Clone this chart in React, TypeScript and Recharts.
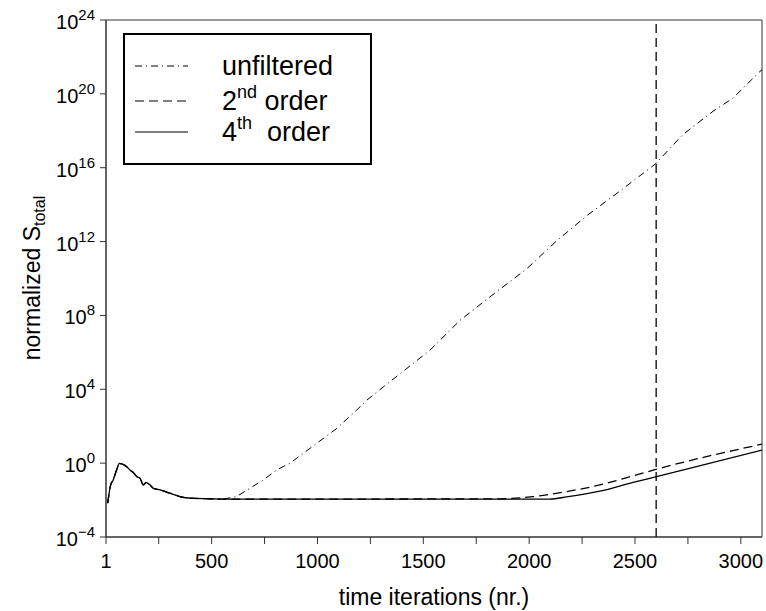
import React from 'react';
import {
  LineChart,
  Line,
  XAxis,
  YAxis,
  ReferenceLine,
  ReferenceArea,
  Legend
} from 'recharts';

const FONT = '"Liberation Sans", Arial, Helvetica, sans-serif';

// start-up transient, identical for all three runs (values are log10 of S_total)
const earlyIters = [9, 23, 35, 51, 64, 75, 99, 114, 130, 146, 162, 177, 190, 209, 224, 256, 303, 350, 398, 492, 555];
const earlyExps = [-2.17, -1.18, -0.91, -0.37, -0.01, -0.04, -0.19, -0.37, -0.51, -0.73, -0.82, -1.18, -1.05, -1.18, -1.36, -1.45, -1.63, -1.81, -1.9, -1.93, -1.95];

// unfiltered run blows up
const unfilteredIters = [618, 681, 744, 807, 870, 933, 996, 1091, 1185, 1233, 1311, 1531, 1673, 1823, 1988, 2130, 2271, 2429, 2594, 2727, 2869, 2963, 3089, 3100];
const unfilteredExps = [-1.81, -1.36, -0.91, -0.37, 0.0, 0.53, 1.07, 1.88, 2.87, 3.41, 4.13, 6.11, 7.73, 9.08, 10.52, 12.04, 13.39, 14.74, 16.18, 17.8, 19.06, 19.77, 21.2, 21.3];

// 2nd order filter
const secondIters = [1862, 2019, 2177, 2334, 2491, 2602, 3100];
const secondExps = [-1.93, -1.81, -1.54, -1.18, -0.69, -0.33, 1.03];

// 4th order filter
const fourthIters = [2098, 2177, 2334, 2491, 2602, 3100];
const fourthExps = [-1.95, -1.83, -1.52, -1.04, -0.73, 0.71];

const xTicks = [1, 250, 500, 750, 1000, 1250, 1500, 1750, 2000, 2250, 2500, 2750, 3000];
const xLabelTicks = [1, 500, 1000, 1500, 2000, 2500, 3000];
const yTickExps = [-4, 0, 4, 8, 12, 16, 20, 24];
const cutoffIter = 2600;

const toPoints = (iters: number[], exps: number[]) =>
  iters.map((it, i) => ({ iter: it, value: Math.pow(10, exps[i]) }));

const earlyData = toPoints(earlyIters, earlyExps);
const unfilteredData = [...earlyData, ...toPoints(unfilteredIters, unfilteredExps)];
const secondData = [...earlyData, ...toPoints(secondIters, secondExps)];
const fourthData = [...earlyData, ...toPoints(fourthIters, fourthExps)];
const yTicks = yTickExps.map(e => Math.pow(10, e));

const XTick = ({ x, y, payload }: any) => {
  if (!xLabelTicks.includes(payload.value)) return <g />;
  return (
    <text x={x} y={y + 22} textAnchor="middle" fontSize={20} fontFamily={FONT} fill="#000">
      {payload.value}
    </text>
  );
};

const YTick = ({ x, y, payload }: any) => {
  const e = Math.round(Math.log10(payload.value));
  return (
    <text x={x - 3} y={y + 9} textAnchor="end" fontFamily={FONT} fill="#000">
      <tspan fontSize={20}>10</tspan>
      <tspan fontSize={15} dy={-9}>{e < 0 ? '\u2212' + -e : e}</tspan>
    </text>
  );
};

const YTitle = () => (
  <text
    x={40}
    y={278}
    transform="rotate(-90 40 278)"
    textAnchor="middle"
    fontSize={23}
    fontFamily={FONT}
    fill="#000"
  >
    normalized S<tspan fontSize={16} dy={5}>total</tspan>
  </text>
);

const legendRows = [
  { key: 'unfiltered', dash: '7 4 1 4', base: 'unfiltered', sup: '', rest: '' },
  { key: 'second', dash: '9 5', base: '2', sup: 'nd', rest: ' order' },
  { key: 'fourth', dash: undefined, base: '4', sup: 'th', rest: '  order' }
];
const legendRowCenters = [31, 66, 97];

const LegendBox = () => (
  <div
    style={{
      position: 'relative',
      width: 245,
      height: 128,
      border: '2px solid #000',
      background: '#fff',
      fontFamily: FONT
    }}
  >
    {legendRows.map((r, i) => (
      <div key={r.key} style={{ position: 'absolute', left: 0, top: legendRowCenters[i] - 16, height: 32, width: 245 }}>
        <svg width={70} height={32} style={{ position: 'absolute', left: 0, top: 0 }}>
          <line x1={10} x2={63} y1={16} y2={16} stroke="#000" strokeWidth={1.2} strokeDasharray={r.dash} />
        </svg>
        <span
          style={{
            position: 'absolute',
            left: 97,
            top: 0,
            fontSize: 27,
            lineHeight: '32px',
            whiteSpace: 'pre',
            color: '#000'
          }}
        >
          {r.base}
          {r.sup && (
            <span style={{ fontSize: 18, position: 'relative', top: -12 }}>{r.sup}</span>
          )}
          {r.rest}
        </span>
      </div>
    ))}
  </div>
);

const App: React.FC = () => {
  return (
    <div style={{ position: 'absolute', left: 0, top: 0, background: '#fff' }}>
      <LineChart width={766} height={611} margin={{ top: 20, right: 4, bottom: 0, left: 0 }}>
        <XAxis
          type="number"
          dataKey="iter"
          domain={[1, 3100]}
          ticks={xTicks}
          interval={0}
          tick={<XTick />}
          tickSize={7}
          height={74}
          stroke="#333"
          allowDataOverflow
          label={{
            value: 'time iterations (nr.)',
            position: 'insideBottom',
            offset: 6,
            fontSize: 23,
            fill: '#000',
            fontFamily: FONT
          }}
        />
        <YAxis
          type="number"
          scale="log"
          domain={[1e-4, 1e24]}
          ticks={yTicks}
          interval={0}
          tick={<YTick />}
          tickSize={6}
          width={106}
          stroke="#333"
          allowDataOverflow
          label={<YTitle />}
        />
        <ReferenceArea x1={1} x2={3100} y1={1e-4} y2={1e24} fill="none" stroke="#333" strokeWidth={1} />
        <Legend
          layout="horizontal"
          verticalAlign="middle"
          align="center"
          content={<LegendBox />}
          wrapperStyle={{ left: 123, top: 33, width: 249, height: 132 }}
        />
        <Line
          data={unfilteredData}
          dataKey="value"
          name="unfiltered"
          type="linear"
          stroke="#000"
          strokeWidth={1}
          strokeDasharray="7 4 1 4"
          dot={false}
          isAnimationActive={false}
        />
        <Line
          data={secondData}
          dataKey="value"
          name="2nd order"
          type="monotoneX"
          stroke="#000"
          strokeWidth={1.3}
          strokeDasharray="9 5"
          dot={false}
          isAnimationActive={false}
        />
        <Line
          data={fourthData}
          dataKey="value"
          name="4th order"
          type="monotoneX"
          stroke="#000"
          strokeWidth={1.3}
          dot={false}
          isAnimationActive={false}
        />
        <ReferenceLine x={cutoffIter} stroke="#000" strokeWidth={1.3} strokeDasharray="9 5" />
      </LineChart>
    </div>
  );
};

export default App;
